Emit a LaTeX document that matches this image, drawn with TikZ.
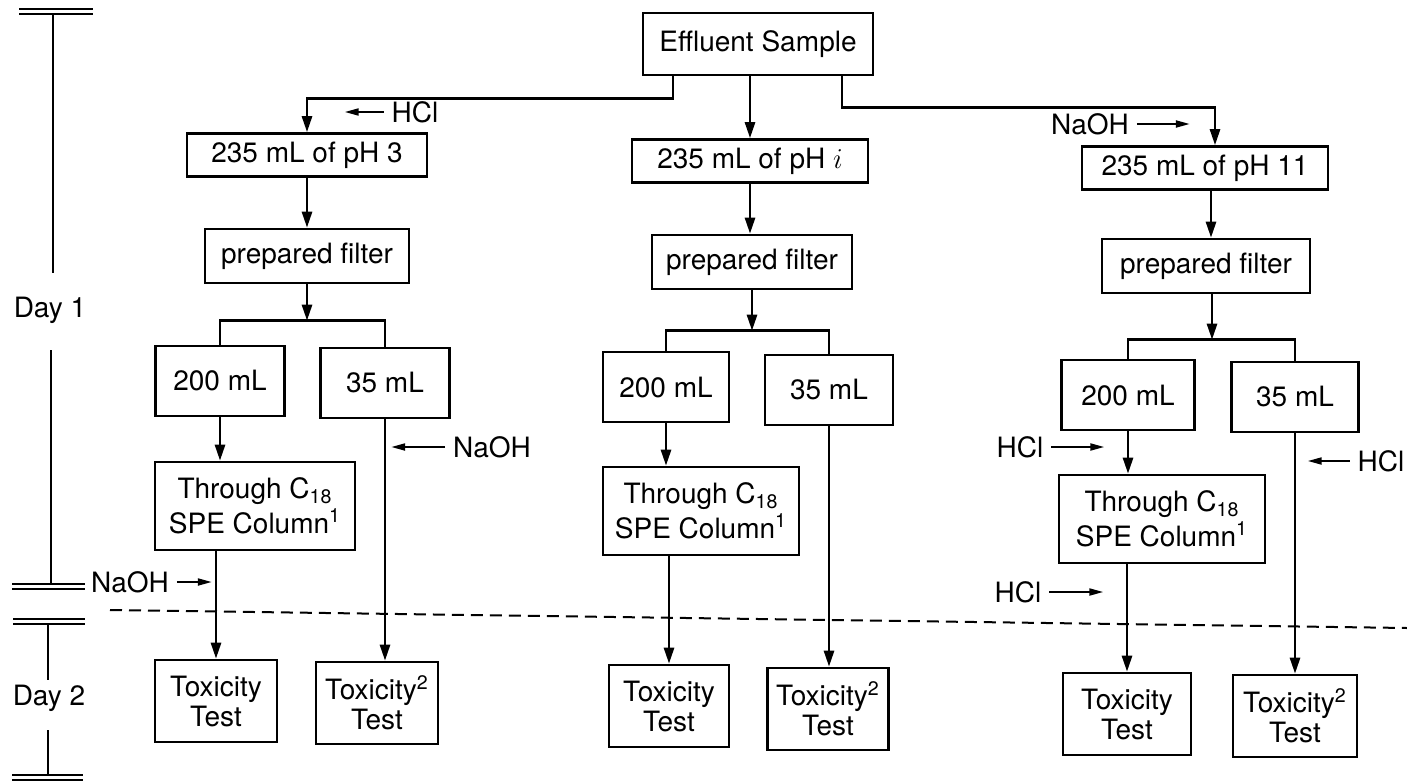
\documentclass[tikz,border=0pt]{standalone}
\usepackage{fontspec}
\setmainfont{TeX Gyre Heros}
\usetikzlibrary{arrows.meta}

\begin{document}
\begin{tikzpicture}[x=0.5pt,y=-0.5pt,line width=1.3pt,
    font=\fontsize{14}{15}\selectfont,
    box/.style={draw,line width=1.3pt,align=center,inner sep=2pt},
    flow/.style={-{Triangle[length=8pt,width=5pt]}},
    add/.style={-{Triangle[length=7pt,width=3.5pt]},line width=1pt}]
  \useasboundingbox (0,0) rectangle (1407,781);

  \node[box,minimum width=115pt,minimum height=31pt] (sample) at (758,44) {Effluent Sample};

  \node[box,minimum width=120pt,minimum height=21.5pt] (phA) at (307,155) {235 mL of pH 3};
  \node[box,minimum width=118pt,minimum height=21.5pt] (phB) at (750,161) {235 mL of pH $i$};
  \node[box,minimum width=123pt,minimum height=21.5pt] (phC) at (1205,168) {235 mL of pH 11};

  \node[box,minimum width=102pt,minimum height=27pt] (filterA) at (307,256) {prepared filter};
  \node[box,minimum width=100pt,minimum height=27pt] (filterB) at (752,262) {prepared filter};
  \node[box,minimum width=104pt,minimum height=27pt] (filterC) at (1206,266) {prepared filter};

  \node[box,minimum width=64.5pt,minimum height=35pt] (bigA) at (220,381) {200 mL};
  \node[box,minimum width=64.5pt,minimum height=35pt] (smallA) at (385,383) {35 mL};
  \node[box,minimum width=63pt,minimum height=35pt] (bigB) at (666,387) {200 mL};
  \node[box,minimum width=64pt,minimum height=35pt] (smallB) at (829,390) {35 mL};
  \node[box,minimum width=66.5pt,minimum height=35pt] (bigC) at (1128,395) {200 mL};
  \node[box,minimum width=63.5pt,minimum height=35pt] (smallC) at (1295,397) {35 mL};

  \node[box,minimum width=100pt,minimum height=44pt] (speA) at (255,506) {Through C\textsubscript{18}\\[1pt]SPE Column\textsuperscript{1}};
  \node[box,minimum width=98pt,minimum height=44pt] (speB) at (701,511) {Through C\textsubscript{18}\\[1pt]SPE Column\textsuperscript{1}};
  \node[box,minimum width=103pt,minimum height=44pt] (speC) at (1162,519) {Through C\textsubscript{18}\\[1pt]SPE Column\textsuperscript{1}};

  \node[box,minimum width=61pt,minimum height=41pt] (toxA) at (216,701) {Toxicity\\Test};
  \node[box,minimum width=61pt,minimum height=41pt] (toxtwoA) at (377,703) {Toxicity\textsuperscript{2}\\Test};
  \node[box,minimum width=60pt,minimum height=41pt] (toxB) at (669,706) {Toxicity\\Test};
  \node[box,minimum width=60.5pt,minimum height=41pt] (toxtwoB) at (828,709) {Toxicity\textsuperscript{2}\\Test};
  \node[box,minimum width=64pt,minimum height=41pt] (toxC) at (1127,714) {Toxicity\\Test};
  \node[box,minimum width=62pt,minimum height=41pt] (toxtwoC) at (1295,716) {Toxicity\textsuperscript{2}\\Test};

  \draw[flow] ([xshift=-42.5pt]sample.south) -- ++(0,-11pt) -| (phA.north);
  \draw[flow] (sample.south -| phB.north) -- (phB.north);
  \draw[flow] ([xshift=42pt]sample.south) -- ++(0,-15.5pt) -| ([xshift=5pt]phC.north);

  \draw[flow] (phA.south) -- (phA.south |- filterA.north);
  \draw[flow] (phB.south) -- (phB.south |- filterB.north);
  \draw[flow] ([xshift=3pt]phC.south) -- ([xshift=3pt]phC.south |- filterC.north);

  \draw (bigA.north) -- ++(0,12pt) coordinate (splitA) -| (smallA.north);
  \draw (bigB.north) -- ++(0,10pt) coordinate (splitB) -| (smallB.north);
  \draw (bigC.north) -- ++(0,9.5pt) coordinate (splitC) -| (smallC.north);
  \draw[flow] (filterA.south) -- (filterA.south |- splitA);
  \draw[flow] (filterB.south) -- (filterB.south |- splitB);
  \draw[flow] ([xshift=3pt]filterC.south) -- ([xshift=3pt]filterC.south |- splitC);

  \draw[flow] (bigA.south) -- (bigA.south |- speA.north);
  \draw[flow] (bigB.south) -- (bigB.south |- speB.north);
  \draw[flow] (bigC.south) -- (bigC.south |- speC.north);

  \draw[flow] (speA.south -| toxA.north) -- (toxA.north);
  \draw[flow] (speB.south -| toxB.north) -- (toxB.north);
  \draw[flow] (speC.south -| toxC.north) -- (toxC.north);

  \draw[flow] (smallA.south) -- (smallA.south |- toxtwoA.north);
  \draw[flow] (smallB.south) -- (smallB.south |- toxtwoB.north);
  \draw[flow] (smallC.south) -- (smallC.south |- toxtwoC.north);

  \node (hclA) at (415,112) {HCl};
  \draw[add] (hclA.west) -- ++(-19.5pt,0);
  \node (naohC) at (1090,124) {NaOH};
  \draw[add] (naohC.east) -- ++(26.5pt,0);
  \node (naohA) at (492,447) {NaOH};
  \draw[add] (naohA.west) -- ++(-27pt,0);
  \node (naohAlow) at (130,582) {NaOH};
  \draw[add] (naohAlow.east) -- ++(17.5pt,0);
  \node (hclC) at (1020,447) {HCl};
  \draw[add] (hclC.east) -- ++(26.5pt,0);
  \node (hclCsmall) at (1381,461) {HCl};
  \draw[add] (hclCsmall.west) -- ++(-21pt,0);
  \node (hclClow) at (1018,592) {HCl};
  \draw[add] (hclClow.east) -- ++(27pt,0);

  \draw[dashed,dash pattern=on 6pt off 3.5pt,line width=1pt] (110,610) -- (1407,628);

  \draw[line width=1pt] (19,9) -- (93,9) (19,14) -- (93,14);
  \draw (53,14) -- (53,273);
  \node (dayone) at (50,310) {Day 1};
  \draw (51,350) -- (51,584);
  \draw[line width=1pt] (12,584) -- (85,584) (12,589) -- (85,589);
  \draw[line width=1pt] (13,619) -- (85,619) (13,624) -- (85,624);
  \draw (48,624) -- (48,680);
  \node (daytwo) at (49,698) {Day 2};
  \draw (48,730) -- (48,775);
  \draw[line width=1pt] (12,775) -- (83,775) (12,780) -- (83,780);
\end{tikzpicture}
\end{document}
